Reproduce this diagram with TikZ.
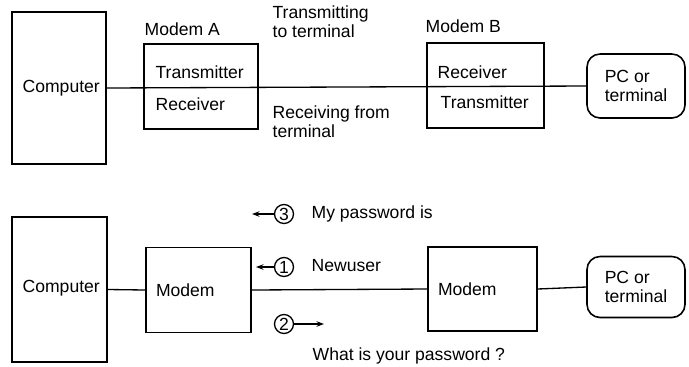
\documentclass[tikz,border=0pt]{standalone}
\usepackage{fontspec}
\setmainfont{Liberation Sans}
\usetikzlibrary{arrows.meta}

\begin{document}
\begin{tikzpicture}[
    x=0.02cm, y=-0.02cm,
    line width=0.75pt, color=black,
    small arrow/.style={-{Stealth[length=1.5mm,width=1.1mm]}, line width=0.75pt},
    box/.style={draw, line width=0.9pt, inner sep=0pt},
    lab/.style={font=\fontsize{10}{11}\selectfont, inner sep=0pt, anchor=west},
    msg/.style={lab, align=left},
    num/.style={draw, circle, inner sep=0pt, minimum size=0.38cm, font=\fontsize{10}{11}\selectfont},
    term/.style={draw, line width=0.9pt, rounded corners=0.26cm, minimum width=1.96cm,
                 align=left, font=\fontsize{10}{11}\selectfont}]
  % fixed 689 x 366 px canvas
  \path[use as bounding box] (0,0) rectangle (689,366);

  % ================= 1) full duplex: two halves in each modem =================
  \node[box, minimum width=1.88cm, minimum height=3.04cm] (comp1) at (59,88) {};
  \node[lab] (comp1lab) at (22,88) {Computer};
  \node[box, minimum width=2.28cm, minimum height=1.70cm] (moda) at (201,86.5) {};
  \node[box, minimum width=2.34cm, minimum height=1.70cm] (modb) at (485.5,85.5) {};
  \node[term, minimum height=1.28cm] (pc1) at (636,86) {PC or\\terminal};
  \node[lab] (modalab) at (144,29) {Modem A};
  \node[lab] (modblab) at (425,26) {Modem B};
  \node[lab] (txa) at (155,72) {Transmitter};
  \node[lab] (rxa) at (155,104) {Receiver};
  \node[lab] (rxb) at (437,72) {Receiver};
  \node[lab] (txb) at (440,102) {Transmitter};
  \node[msg] (tolab) at (272,22) {Transmitting\\to terminal};
  \node[msg] (fromlab) at (272,122) {Receiving from\\terminal};
  % one line through both modems
  \draw (comp1.east) -- (pc1.west);

  % ================= 2) echo of the password dialogue =================
  \node[box, minimum width=1.90cm, minimum height=2.90cm] (comp2) at (59.5,289.5) {};
  \node[lab] (comp2lab) at (22,288) {Computer};
  \node[box, minimum width=2.10cm, minimum height=1.70cm, text width=1.70cm,
        inner xsep=0.2cm, align=left, font=\fontsize{10}{11}\selectfont] (modc) at (198.5,290) {Modem};
  \node[box, minimum width=2.18cm, minimum height=1.68cm, text width=1.78cm,
        inner xsep=0.2cm, align=left, font=\fontsize{10}{11}\selectfont] (modd) at (482.5,289) {Modem};
  \node[term, minimum height=1.22cm] (pc2) at (636,287) {PC or\\terminal};
  \draw (comp2.east) -- (modc.west);
  \draw (modc.east) -- (modd.west);
  \draw (modd.east) -- (pc2.west);

  % numbered messages
  \node[num] (n3) at (284,214) {3};
  \node[num] (n1) at (284,267) {1};
  \node[num] (n2) at (284,324) {2};
  \coordinate (a3) at (252,214);
  \coordinate (a1) at (256,267);
  \coordinate (a2) at (324,324);
  \draw[small arrow] (n3.west) -- (a3);
  \draw[small arrow] (n1.west) -- (a1);
  \draw[small arrow] (n2.east) -- (a2);
  \node[lab] (m3) at (311,214) {My password is};
  \node[lab] (m1) at (311,266) {Newuser};
  \node[lab] (m2) at (312,356) {What is your password ?};
\end{tikzpicture}
\end{document}
